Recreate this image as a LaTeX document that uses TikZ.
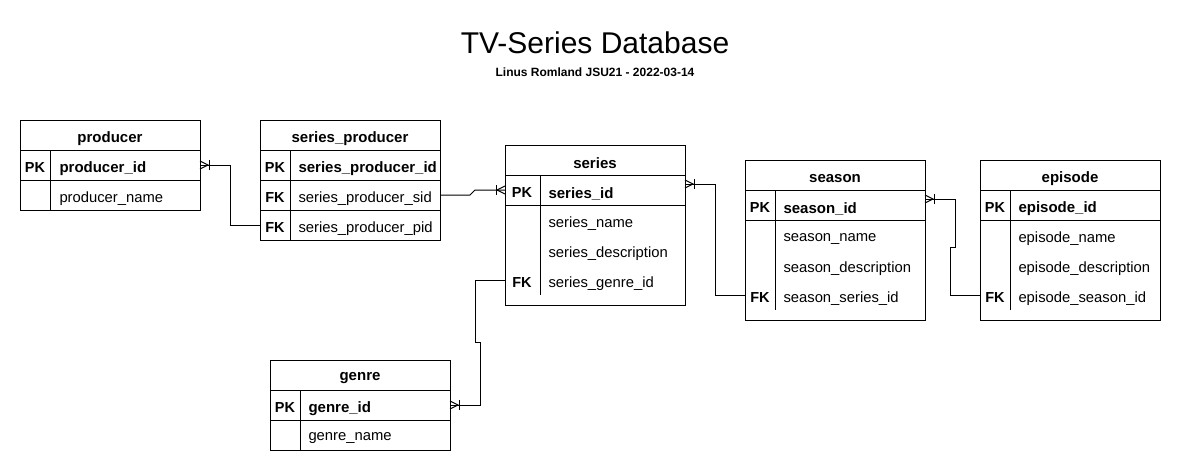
\documentclass[tikz,border=0pt]{standalone}
\usepackage{fontspec}
\setmainfont{Liberation Sans}
\begin{document}
\begin{tikzpicture}[x=1pt,y=-1pt,
  every path/.style={line width=1pt},
  tbl/.style={draw, line width=1pt, anchor=north west, inner sep=0pt, minimum width=180pt},
  ttl/.style={inner sep=0pt, yshift=-3.5pt, font=\fontsize{15}{17}\selectfont\bfseries, anchor=center},
  keyc/.style={inner sep=0pt, yshift=-3pt, font=\fontsize{14.5}{16}\selectfont\bfseries, anchor=center},
  pkf/.style={inner sep=0pt, yshift=-3.5pt, font=\fontsize{15}{17}\selectfont\bfseries, anchor=west},
  fld/.style={inner sep=0pt, yshift=-3.5pt, font=\fontsize{14.8}{17}\selectfont, anchor=west},
  conn/.style={draw, line width=1pt}
]
\useasboundingbox (0,0) rectangle (1181,471);
\fill[white] (0,0) rectangle (1181,471);

% crow's foot mark: x, y, direction
\newcommand\crowmark[3]{%
  \draw (#1,#2-4) -- (#1+8*#3,#2) -- (#1,#2+4);
  \draw (#1+9*#3,#2-5) -- (#1+9*#3,#2+5);}

% title
\node[inner sep=0pt, font=\fontsize{30}{34}\selectfont] (title) at (595,43) {TV-Series Database};
\node[inner sep=0pt, font=\fontsize{12}{14}\selectfont\bfseries] (subtitle) at (595,72) {Linus Romland JSU21 - 2022-03-14};

% producer
\node[tbl, minimum height=90pt] (producer) at (20,120) {};
\draw (20,150) -- (200,150);
\draw (20,180) -- (200,180);
\draw (50,150) -- (50,210);
\node[ttl] (producerT) at (110,135) {producer};
\node[keyc] (producerK1) at (35,165) {PK};
\node[pkf] (producerF1) at (59,165) {producer\_id};
\node[fld] (producerF2) at (59,195) {producer\_name};

% series_producer
\node[tbl, minimum height=120pt] (sp) at (260,120) {};
\draw (260,150) -- (440,150);
\draw (260,180) -- (440,180);
\draw (260,210) -- (440,210);
\draw (290,150) -- (290,240);
\node[ttl] (spT) at (350,135) {series\_producer};
\node[keyc] (spK1) at (275,165) {PK};
\node[pkf] (spF1) at (298,165) {series\_producer\_id};
\node[keyc] (spK2) at (275,195) {FK};
\node[fld] (spF2) at (298,195) {series\_producer\_sid};
\node[keyc] (spK3) at (275,225) {FK};
\node[fld] (spF3) at (298,225) {series\_producer\_pid};

% series
\node[tbl, minimum height=160pt] (series) at (505,145) {};
\draw (505,175) -- (685,175);
\draw (505,205) -- (685,205);
\draw (540,175) -- (540,295);
\node[ttl] (seriesT) at (595,160) {series};
\node[keyc] (seriesK1) at (522,190) {PK};
\node[pkf] (seriesF1) at (548,190) {series\_id};
\node[fld] (seriesF2) at (548,220) {series\_name};
\node[fld] (seriesF3) at (548,250) {series\_description};
\node[keyc] (seriesK4) at (522,280) {FK};
\node[fld] (seriesF4) at (548,280) {series\_genre\_id};

% season
\node[tbl, minimum height=160pt] (season) at (745,160) {};
\draw (745,190) -- (925,190);
\draw (745,220) -- (925,220);
\draw (775,190) -- (775,310);
\node[ttl] (seasonT) at (835,175) {season};
\node[keyc] (seasonK1) at (760,205) {PK};
\node[pkf] (seasonF1) at (783,205) {season\_id};
\node[fld] (seasonF2) at (783,235) {season\_name};
\node[fld] (seasonF3) at (783,265) {season\_description};
\node[keyc] (seasonK4) at (760,295) {FK};
\node[fld] (seasonF4) at (783,295) {season\_series\_id};

% episode
\node[tbl, minimum height=160pt] (episode) at (980,160) {};
\draw (980,190) -- (1160,190);
\draw (980,220) -- (1160,220);
\draw (1010,190) -- (1010,310);
\node[ttl] (episodeT) at (1070,175) {episode};
\node[keyc] (episodeK1) at (995,205) {PK};
\node[pkf] (episodeF1) at (1018,205) {episode\_id};
\node[fld] (episodeF2) at (1018,235) {episode\_name};
\node[fld] (episodeF3) at (1018,265) {episode\_description};
\node[keyc] (episodeK4) at (995,295) {FK};
\node[fld] (episodeF4) at (1018,295) {episode\_season\_id};

% genre
\node[tbl, minimum height=90pt] (genre) at (270,360) {};
\draw (270,390) -- (450,390);
\draw (270,420) -- (450,420);
\draw (300,390) -- (300,450);
\node[ttl] (genreT) at (360,375) {genre};
\node[keyc] (genreK1) at (285,405) {PK};
\node[pkf] (genreF1) at (308,405) {genre\_id};
\node[fld] (genreF2) at (308,435) {genre\_name};

% connector end points
\coordinate (spPid) at (260,225);
\coordinate (prodPk) at (200,165);
\coordinate (spSid) at (440,195);
\coordinate (serL) at (505,190);
\coordinate (serR) at (685,184);
\coordinate (seaFk) at (745,295);
\coordinate (seaR) at (925,199);
\coordinate (epFk) at (980,295);
\coordinate (serFk) at (505,280);
\coordinate (genPk) at (450,405);

% connectors
\draw[conn] (spPid) -- ++(-30,0) |- (prodPk);
\draw[conn] (spSid) -- ++(30,0) -- ++(5,-5) -- (serL);
\draw[conn] (serR) -- ++(30,0) |- (seaFk);
\draw[conn] (seaR) -- ++(30,0) -- (955,247) -- (950,247) |- (epFk);
\draw[conn] (serFk) -- ++(-30,0) -- (475,342) -- (480,342) |- (genPk);

\crowmark{200}{165}{1}
\crowmark{505}{190}{-1}
\crowmark{685}{184}{1}
\crowmark{925}{199}{1}
\crowmark{450}{405}{1}
\end{tikzpicture}
\end{document}
